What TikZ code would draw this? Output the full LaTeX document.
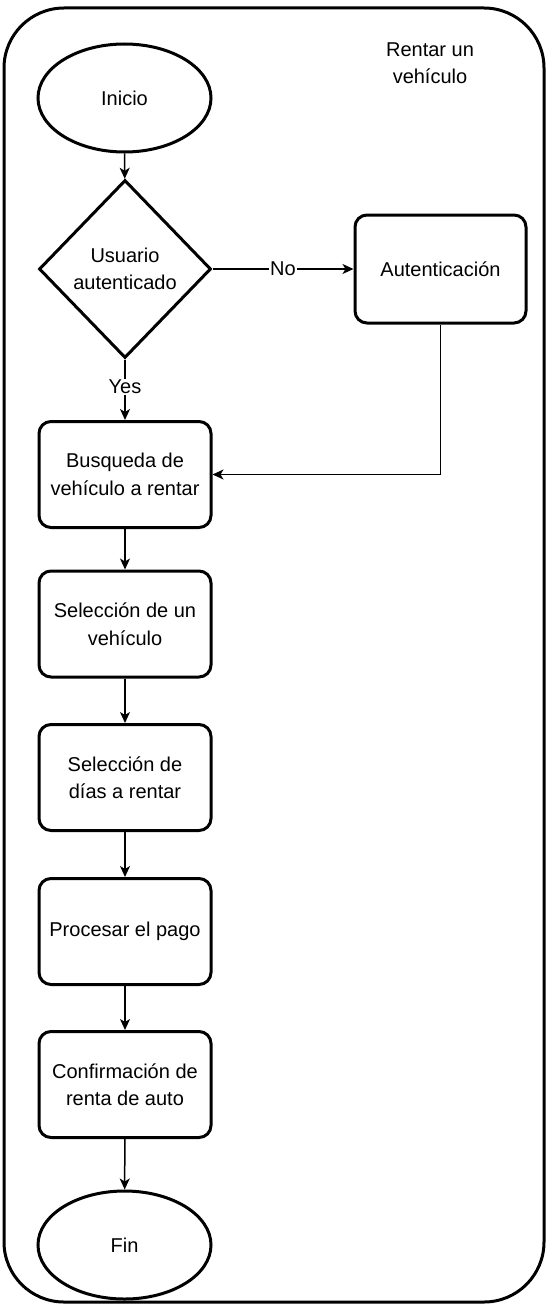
\documentclass[tikz,border=0pt]{standalone}
\usepackage{fontspec}
\setmainfont{Liberation Sans}
\usetikzlibrary{shapes.geometric,arrows.meta}
\tikzset{
  lbl/.style={font=\fontsize{20}{27.5}\selectfont, align=center},
  proc/.style={lbl, draw, line width=3pt, rounded corners=12pt, minimum width=172pt, minimum height=106pt, inner sep=0pt},
  term/.style={lbl, draw, ellipse, line width=3pt, minimum width=173pt, minimum height=108pt, inner sep=0pt},
  dec/.style={lbl, draw, diamond, aspect=1, line width=3pt, minimum width=172pt, minimum height=178pt, inner sep=0pt},
  conn/.style={line width=1.5pt, -{Stealth[length=11pt,width=10pt,inset=3pt]}},
  elbl/.style={font=\fontsize{20}{24}\selectfont, fill=white, inner sep=1pt}
}
\begin{document}
\begin{tikzpicture}[x=1pt,y=-1pt]
\useasboundingbox (0,0) rectangle (547,1306);
\draw[line width=3pt, rounded corners=60pt] (4,8) rectangle (544,1302);
\node[lbl] (title) at (430,63) {Rentar un\\vehículo};
\node[term] (ini) at (124.5,98) {Inicio};
\node[dec] (usr) at (125,269) {Usuario\\autenticado};
\node[proc, minimum width=171pt, minimum height=108pt] (aut) at (440.5,269) {Autenticación};
\node[proc] (bus) at (125,474.5) {Busqueda de\\vehículo a rentar};
\node[proc] (sel) at (125,624) {Selección de un\\vehículo};
\node[proc] (dia) at (125,777.5) {Selección de\\días a rentar};
\node[proc] (pag) at (125,931.5) {Procesar el pago};
\node[proc] (con) at (125,1084.5) {Confirmación de\\renta de auto};
\node[term] (fin) at (124.5,1245) {Fin};
\draw[conn] (ini) -- (usr);
\draw[conn] (usr) -- node[elbl] (no) {No} (aut);
\draw[conn] (usr) -- node[elbl, pos=0.45] (yes) {Yes} (bus);
\draw[conn] (aut.south) |- (bus.east);
\draw[conn] (bus) -- (sel);
\draw[conn] (sel) -- (dia);
\draw[conn] (dia) -- (pag);
\draw[conn] (pag) -- (con);
\draw[conn] (con) -- (fin);
\end{tikzpicture}
\end{document}
